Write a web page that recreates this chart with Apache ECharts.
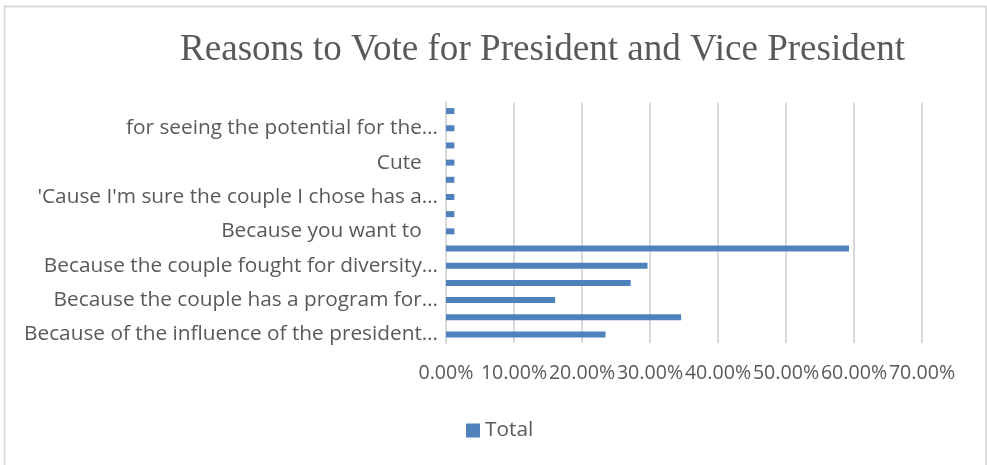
<!DOCTYPE html>
<html>
<head>
<meta charset="utf-8">
<script src="https://cdn.jsdelivr.net/npm/echarts@6/dist/echarts.min.js"></script>
<style>
  html, body { margin: 0; padding: 0; background: #ffffff; }
  #chart { width: 987px; height: 465px; }
</style>
</head>
<body>
<div id="chart"></div>
<script>
// Reasons, listed from the bottom bar upward (category axis order)
const reasons = [
  "Because of the influence of the president…",
  "Because the couple is firm and authoritative…",
  "Because the couple has a program for…",
  "Because the couple has a clear vision and mission…",
  "Because the couple fought for diversity…",
  "Because the couple cares about the people…",
  "Because you want to   ",
  "Because of the family's choice",
  "'Cause I'm sure the couple I chose has a…",
  "Because they are honest",
  "Cute   ",
  "Because of their experience",
  "for seeing the potential for the…",
  "Because they are the best choice"
];

// Share of respondents per reason, in percent
const totals = [23.46, 34.57, 16.05, 27.16, 29.63, 59.26, 1.23, 1.23, 1.23, 1.23, 1.23, 1.23, 1.23, 1.23];

const seriesName = "Total";
const chartTitle = "Reasons to Vote for President and Vice President";

const axisMin = 0;
const axisMax = 70;
const axisStep = 10;

const textGray = "#595959";
const lineGray = "#d9d9d9";
const barBlue = "#4f81bd";
const sansFont = "'Open Sans', 'Noto Sans', sans-serif";
const sansSize = 20.8;
const tickSize = 19.6;

const chart = echarts.init(document.getElementById("chart"), null, { renderer: "canvas" });

chart.setOption({
  backgroundColor: "#ffffff",
  animation: false,
  graphic: [{
    type: "rect",
    shape: { x: 4.5, y: 6.5, width: 981.5, height: 480 },
    style: { fill: "none", stroke: lineGray, lineWidth: 1.8 },
    silent: true
  }],
  title: {
    text: chartTitle,
    left: 180,
    top: 31.5,
    padding: 0,
    textStyle: {
      fontFamily: "'Liberation Serif', 'DejaVu Serif', serif",
      fontSize: 37.1,
      fontWeight: "normal",
      color: textGray
    }
  },
  legend: {
    data: [seriesName],
    left: 466,
    top: 420,
    padding: 0,
    itemWidth: 14,
    itemHeight: 14,
    itemGap: 5,
    icon: "rect",
    textStyle: { fontFamily: sansFont, fontSize: sansSize, color: textGray, padding: [0, 0, 0, 0] }
  },
  grid: {
    left: 446,
    top: 102.5,
    width: 476,
    height: 240.5,
    containLabel: false,
    outerBoundsMode: "none"
  },
  xAxis: {
    type: "value",
    min: axisMin,
    max: axisMax,
    interval: axisStep,
    axisLine: { show: false },
    axisTick: { show: false },
    splitLine: { show: true, lineStyle: { color: lineGray, width: 2 } },
    axisLabel: {
      margin: 20.5,
      fontFamily: sansFont,
      fontSize: tickSize,
      color: textGray,
      hideOverlap: false,
      showMinLabel: true,
      showMaxLabel: true,
      formatter: v => v.toFixed(2) + "%"
    }
  },
  yAxis: {
    type: "category",
    data: reasons,
    axisLine: { show: true, lineStyle: { color: lineGray, width: 2 } },
    axisTick: { show: false },
    axisLabel: {
      interval: 1,
      margin: 8,
      fontFamily: sansFont,
      fontSize: sansSize,
      color: textGray
    }
  },
  series: [{
    name: seriesName,
    type: "bar",
    data: totals,
    barWidth: 6,
    itemStyle: { color: barBlue }
  }]
});
</script>
</body>
</html>
